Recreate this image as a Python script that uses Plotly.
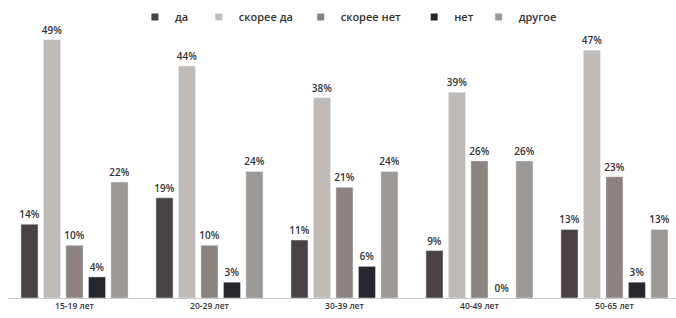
import plotly.graph_objects as go

groups = ["15-19 лет", "20-29 лет", "30-39 лет", "40-49 лет", "50-65 лет"]
series_names = ["да", "скорее да", "скорее нет", "нет", "другое"]
da = [14, 19, 11, 9, 13]
skoree_da = [49, 44, 38, 39, 47]
skoree_net = [10, 10, 21, 26, 23]
net = [4, 3, 6, 0, 3]
drugoe = [22, 24, 24, 26, 13]
colors = ["#4a4145", "#c0bbb7", "#8c8380", "#27262d", "#9c9895"]
legend_pad = [2, 1, 3, 0, 0]  # trailing spaces to mimic reference legend spacing

values = [da, skoree_da, skoree_net, net, drugoe]

fig = go.Figure()
for name, vals, col in zip(series_names, values, colors):
    fig.add_trace(go.Bar(
        x=groups, y=vals, name=name, marker_color=col, showlegend=False,
        text=[f"{v}%" for v in vals], textposition="outside", constraintext="none",
        textfont=dict(family="Open Sans", size=10, color="#333333", weight=600),
        cliponaxis=False, hoverinfo="skip",
    ))
for name, col, pad in zip(series_names, colors, legend_pad):
    fig.add_trace(go.Scatter(
        x=[None], y=[None], mode="markers", name=name + "\u00a0" * pad,
        marker=dict(symbol="square", size=7, color=col),
    ))

fig.update_layout(
    width=676, height=318,
    margin=dict(l=8, r=0, t=8, b=20, autoexpand=False),
    paper_bgcolor="white", plot_bgcolor="white",
    barmode="group", bargap=0.167, bargroupgap=0.24,
    showlegend=True,
    legend=dict(orientation="h", x=0.19, y=0.969, xanchor="left", yanchor="middle",
                font=dict(family="Open Sans", size=11, color="#333333", weight=600),
                itemwidth=30, tracegroupgap=0, bgcolor="rgba(0,0,0,0)"),
    xaxis=dict(range=[-0.4926, 4.456], showline=True, linecolor="#c8c8c8", linewidth=1,
               ticks="", tickfont=dict(family="Open Sans", size=8.5, color="#333333", weight=600)),
    yaxis=dict(range=[0, 55], visible=False),
)
fig.write_html("out.html", config={"displayModeBar": False},
               post_script="document.body.style.margin='0';document.body.style.overflow='hidden';")
